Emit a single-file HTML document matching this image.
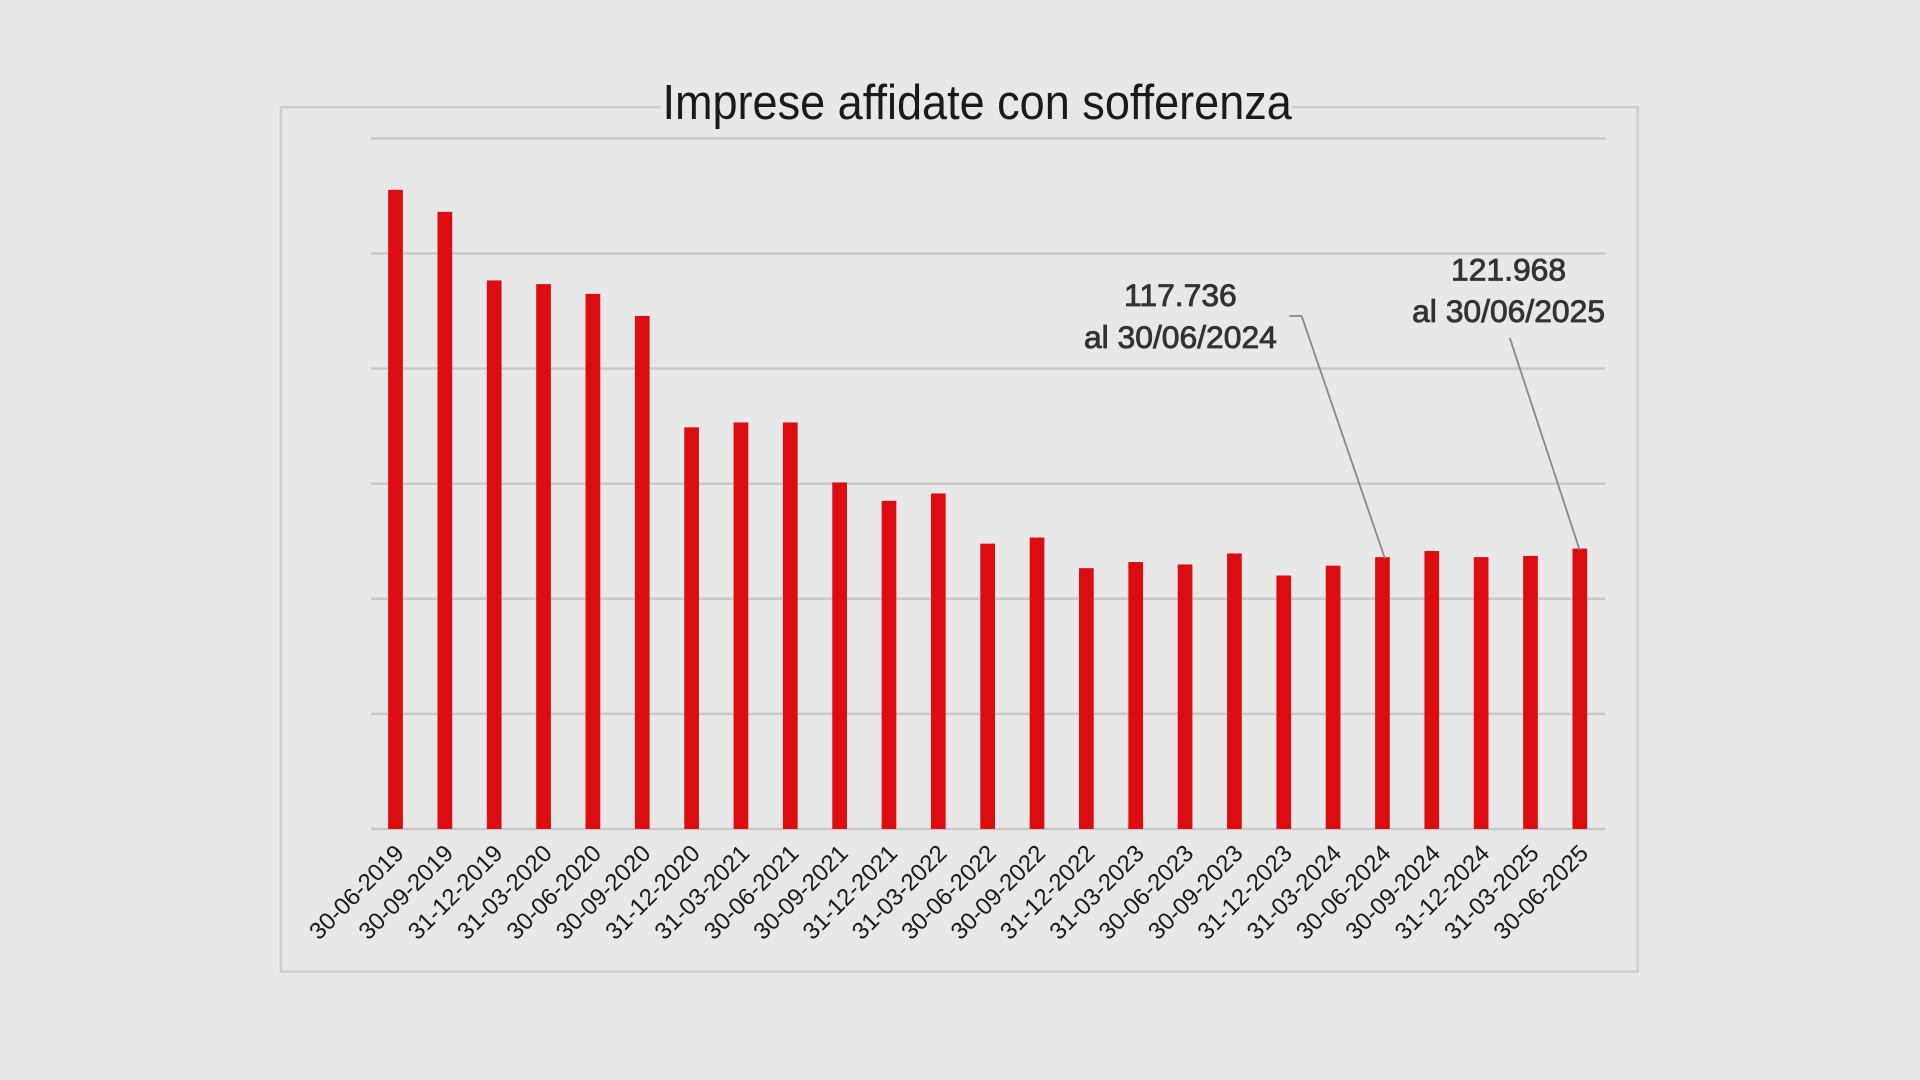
<!DOCTYPE html>
<html><head><meta charset="utf-8"><style>
html,body{margin:0;padding:0;background:#e8e8e8;}
svg{display:block}
</style></head><body>
<svg width="1920" height="1080" viewBox="0 0 1568 882" xmlns="http://www.w3.org/2000/svg">
<rect width="1568" height="882" fill="#e8e8e8"/>
<rect x="229.5" y="87.5" width="1108" height="706" fill="none" stroke="#cfcfcf" stroke-width="2"/>
<rect x="540" y="66" width="515" height="36" fill="#e8e8e8"/>
<text x="798" y="97" text-anchor="middle" font-family="Liberation Sans Narrow, Liberation Sans, sans-serif" font-size="40" fill="#1a1a1a" transform="translate(798 0) scale(0.92 1) translate(-798 0)">Imprese affidate con sofferenza</text>
<g stroke="#c8c8c8" stroke-width="2">
<line x1="303" x2="1311" y1="113" y2="113"/>
<line x1="303" x2="1311" y1="207" y2="207"/>
<line x1="303" x2="1311" y1="301" y2="301"/>
<line x1="303" x2="1311" y1="395" y2="395"/>
<line x1="303" x2="1311" y1="489" y2="489"/>
<line x1="303" x2="1311" y1="583" y2="583"/>
<line x1="303" x2="1311" y1="677" y2="677"/>
</g>
<g fill="#dc0c10" id="bars"></g>
<g id="labels" font-family="Liberation Sans, sans-serif" font-size="19.5" fill="#1a1a1a"></g>
<g stroke="#8a8a8a" stroke-width="1.5" fill="none">
<polyline points="1053,258 1063,258 1131,456"/>
<polyline points="1233,276 1290,449"/>
</g>
<g font-family="Liberation Sans, sans-serif" font-size="26" fill="#333" text-anchor="middle" stroke="#333" stroke-width="0.7">
<text x="964" y="250">117.736</text>
<text x="964" y="284">al 30/06/2024</text>
<text x="1232" y="229">121.968</text>
<text x="1232" y="263">al 30/06/2025</text>
</g>
<script>
var tops=[155,173,229,232,240,258,349,345,345,394,409,403,444,439,464,459,461,452,470,462,455,450,455,454,448];
var labs=["30-06-2019","30-09-2019","31-12-2019","31-03-2020","30-06-2020","30-09-2020","31-12-2020","31-03-2021","30-06-2021","30-09-2021","31-12-2021","31-03-2022","30-06-2022","30-09-2022","31-12-2022","31-03-2023","30-06-2023","30-09-2023","31-12-2023","31-03-2024","30-06-2024","30-09-2024","31-12-2024","31-03-2025","30-06-2025"];
var ns="http://www.w3.org/2000/svg",b=document.getElementById("bars"),l=document.getElementById("labels");
for(var i=0;i<25;i++){var cx=323+i*40.3;
var r=document.createElementNS(ns,"rect");r.setAttribute("x",cx-6);r.setAttribute("y",tops[i]);r.setAttribute("width",12);r.setAttribute("height",677-tops[i]);b.appendChild(r);
var t=document.createElementNS(ns,"text");t.setAttribute("text-anchor","end");var x=cx+8,y=698;t.setAttribute("x",x);t.setAttribute("y",y);t.setAttribute("transform","rotate(-45 "+x+" "+y+")");t.textContent=labs[i];l.appendChild(t);}
</script>
</svg>
</body></html>
